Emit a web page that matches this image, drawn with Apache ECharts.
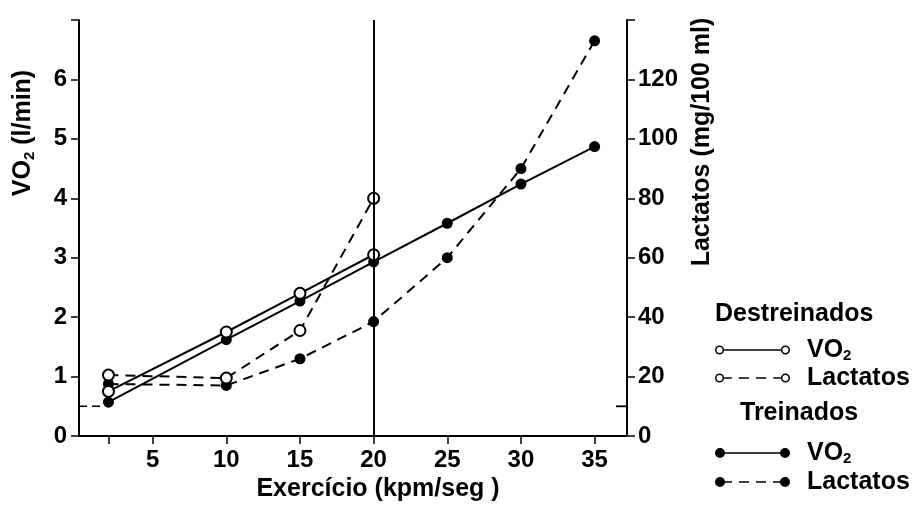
<!DOCTYPE html>
<html>
<head>
<meta charset="utf-8">
<script src="https://cdn.jsdelivr.net/npm/echarts@6/dist/echarts.min.js"></script>
<style>html,body{margin:0;padding:0;background:#fff;}#c{width:917px;height:513px;}</style>
</head>
<body>
<div id="c"></div>
<script>
// Destreinados (untrained)
const xDestreinados = [2, 10, 15, 20];
const vo2Destreinados = [0.75, 1.75, 2.4, 3.05];
const lactDestreinados = [20.5, 19.5, 35.5, 80];
// Treinados (trained)
const xTreinados = [2, 10, 15, 20, 25, 30, 35];
const vo2Treinados = [0.57, 1.62, 2.27, 2.93, 3.58, 4.24, 4.87];
const lactTreinados = [17.5, 17, 26, 38.5, 60, 90, 133];
// rest level stubs and vertical reference
const restX = [0, 1.5];
const restVO2 = 0.5;
const restXRight = [36.45, 37.2];
const restLact = 10;
const verticalRef = 20;
// ticks / labels
const xLabels = [5, 10, 15, 20, 25, 30, 35];
const xTicks = [2, 5, 10, 15, 20, 25, 30, 35];
const leftLabels = [0, 1, 2, 3, 4, 5, 6];
const leftTicks = [0, 1, 2, 3, 4, 5, 6, 7];
const rightLabels = [0, 20, 40, 60, 80, 100, 120];
const rightTicks = [0, 20, 40, 60, 80, 100, 120, 140];

const FONT = "'Liberation Sans', Arial, sans-serif";
const pair = (xs, ys) => xs.map((x, i) => [x, ys[i]]);

const ringL = 'M0.5,5 A4.5,4.5 0 1,1 9.5,5 A4.5,4.5 0 1,1 0.5,5 Z M2,5 A3,3 0 1,0 8,5 A3,3 0 1,0 2,5 Z ';
const ringR = 'M65.5,5 A4.5,4.5 0 1,1 74.5,5 A4.5,4.5 0 1,1 65.5,5 Z M67,5 A3,3 0 1,0 73,5 A3,3 0 1,0 67,5 Z';
const dotL = 'M0,5 A5,5 0 1,1 10,5 A5,5 0 1,1 0,5 Z ';
const dotR = 'M65,5 A5,5 0 1,1 75,5 A5,5 0 1,1 65,5 Z';
const solidSeg = 'M9.5,4.2 L65.5,4.2 L65.5,5.8 L9.5,5.8 Z ';
const dashSeg = 'M9.5,4.2 L17,4.2 L17,5.8 L9.5,5.8 Z M24,4.2 L34,4.2 L34,5.8 L24,5.8 Z M41,4.2 L51,4.2 L51,5.8 L41,5.8 Z M58,4.2 L65.5,4.2 L65.5,5.8 L58,5.8 Z ';
const icons = {
  dV: 'path://' + ringL + solidSeg + ringR,
  dL: 'path://' + ringL + dashSeg + ringR,
  tV: 'path://' + dotL + solidSeg + dotR,
  tL: 'path://' + dotL + dashSeg + dotR
};
const displayNames = {dV: 'VO{s|2}', dL: 'Lactatos', tV: 'VO{s|2}', tL: 'Lactatos'};

const legendText = {
  fontSize: 25, fontWeight: 'bold', color: '#000', fontFamily: FONT, lineHeight: 26,
  padding: [0, 0, 0, 12],
  rich: {s: {fontSize: 15, fontWeight: 'bold', color: '#000', fontFamily: FONT, verticalAlign: 'bottom', lineHeight: 26}}
};
function mkLegend(key, top) {
  return {
    left: 715, top: top, padding: 0, itemWidth: 75, itemHeight: 10,
    selectedMode: false,
    data: [{name: key, icon: icons[key], itemStyle: {color: '#000', borderWidth: 0}}],
    formatter: n => displayNames[n],
    textStyle: legendText
  };
}

const chart = echarts.init(document.getElementById('c'));
chart.setOption({
  backgroundColor: '#fff',
  animation: false,
  title: [
    {text: 'Destreinados', left: 715, top: 302, padding: 0,
     textStyle: {fontSize: 25, fontWeight: 'bold', color: '#000', fontFamily: FONT}},
    {text: 'Treinados', left: 740, top: 401, padding: 0,
     textStyle: {fontSize: 25, fontWeight: 'bold', color: '#000', fontFamily: FONT}}
  ],
  legend: [mkLegend('dV', 337), mkLegend('dL', 365), mkLegend('tV', 440), mkLegend('tL', 469)],
  grid: {left: 79, right: 290, top: 20, bottom: 77},
  xAxis: {
    type: 'value', min: 0, max: 37.2,
    name: 'Exercício (kpm/seg )', nameLocation: 'middle', nameGap: 38,
    nameTextStyle: {fontSize: 25, fontWeight: 'bold', color: '#000', fontFamily: FONT, padding: [0, 0, 0, 50]},
    axisLine: {lineStyle: {color: '#000', width: 2}},
    axisTick: {customValues: xTicks, length: 8, lineStyle: {color: '#000', width: 1.5}},
    axisLabel: {customValues: xLabels, margin: 12, fontSize: 24, fontWeight: 'bold', color: '#000', fontFamily: FONT},
    splitLine: {show: false}
  },
  yAxis: [
    {
      type: 'value', min: 0, max: 7, position: 'left',
      name: 'VO{s|2} (l/min)', nameLocation: 'middle', nameGap: 42,
      nameTextStyle: {fontSize: 25, fontWeight: 'bold', color: '#000', fontFamily: FONT, padding: [0, 0, 0, 190],
        rich: {s: {fontSize: 15, fontWeight: 'bold', color: '#000', fontFamily: FONT, verticalAlign: 'bottom', lineHeight: 28}}},
      axisLine: {show: true, lineStyle: {color: '#000', width: 2}},
      axisTick: {show: true, customValues: leftTicks, length: 8, lineStyle: {color: '#000', width: 1.5}},
      axisLabel: {customValues: leftLabels, margin: 12, fontSize: 24, fontWeight: 'bold', color: '#000', fontFamily: FONT},
      splitLine: {show: false}
    },
    {
      type: 'value', min: 0, max: 140, position: 'right',
      name: 'Lactatos (mg/100 ml)', nameLocation: 'middle', nameGap: 63,
      nameTextStyle: {fontSize: 25, fontWeight: 'bold', color: '#000', fontFamily: FONT, padding: [0, 0, 0, 172]},
      axisLine: {show: true, lineStyle: {color: '#000', width: 2}},
      axisTick: {show: true, customValues: rightTicks, length: 8, lineStyle: {color: '#000', width: 1.5}},
      axisLabel: {customValues: rightLabels, margin: 11, fontSize: 24, fontWeight: 'bold', color: '#000', fontFamily: FONT},
      splitLine: {show: false}
    }
  ],
  series: [
    {
      name: 'rest', type: 'line', yAxisIndex: 0, symbol: 'none', silent: true,
      data: restX.map(x => [x, restVO2]),
      lineStyle: {color: '#000', width: 1.5, type: [8, 5]}
    },
    {
      name: 'restR', type: 'line', yAxisIndex: 1, symbol: 'none', silent: true,
      data: restXRight.map(x => [x, restLact]),
      lineStyle: {color: '#000', width: 1.8}
    },
    {
      name: 'tL', type: 'line', yAxisIndex: 1, data: pair(xTreinados, lactTreinados),
      symbol: 'circle', symbolSize: 11,
      itemStyle: {color: '#000'},
      lineStyle: {color: '#000', width: 2, type: [10, 7]}
    },
    {
      name: 'tV', type: 'line', yAxisIndex: 0, data: pair(xTreinados, vo2Treinados),
      symbol: 'circle', symbolSize: 11,
      itemStyle: {color: '#000'},
      lineStyle: {color: '#000', width: 2},
      markLine: {
        symbol: 'none', silent: true, label: {show: false},
        lineStyle: {color: '#000', width: 2, type: 'solid'},
        data: [{xAxis: verticalRef}]
      }
    },
    {
      name: 'dL', type: 'line', yAxisIndex: 1, data: pair(xDestreinados, lactDestreinados),
      symbol: 'circle', symbolSize: 11,
      itemStyle: {color: '#fff', borderColor: '#000', borderWidth: 2},
      lineStyle: {color: '#000', width: 2, type: [10, 7]}
    },
    {
      name: 'dV', type: 'line', yAxisIndex: 0, data: pair(xDestreinados, vo2Destreinados),
      symbol: 'circle', symbolSize: 11,
      itemStyle: {color: '#fff', borderColor: '#000', borderWidth: 2},
      lineStyle: {color: '#000', width: 2}
    }
  ]
});
</script>
</body>
</html>
